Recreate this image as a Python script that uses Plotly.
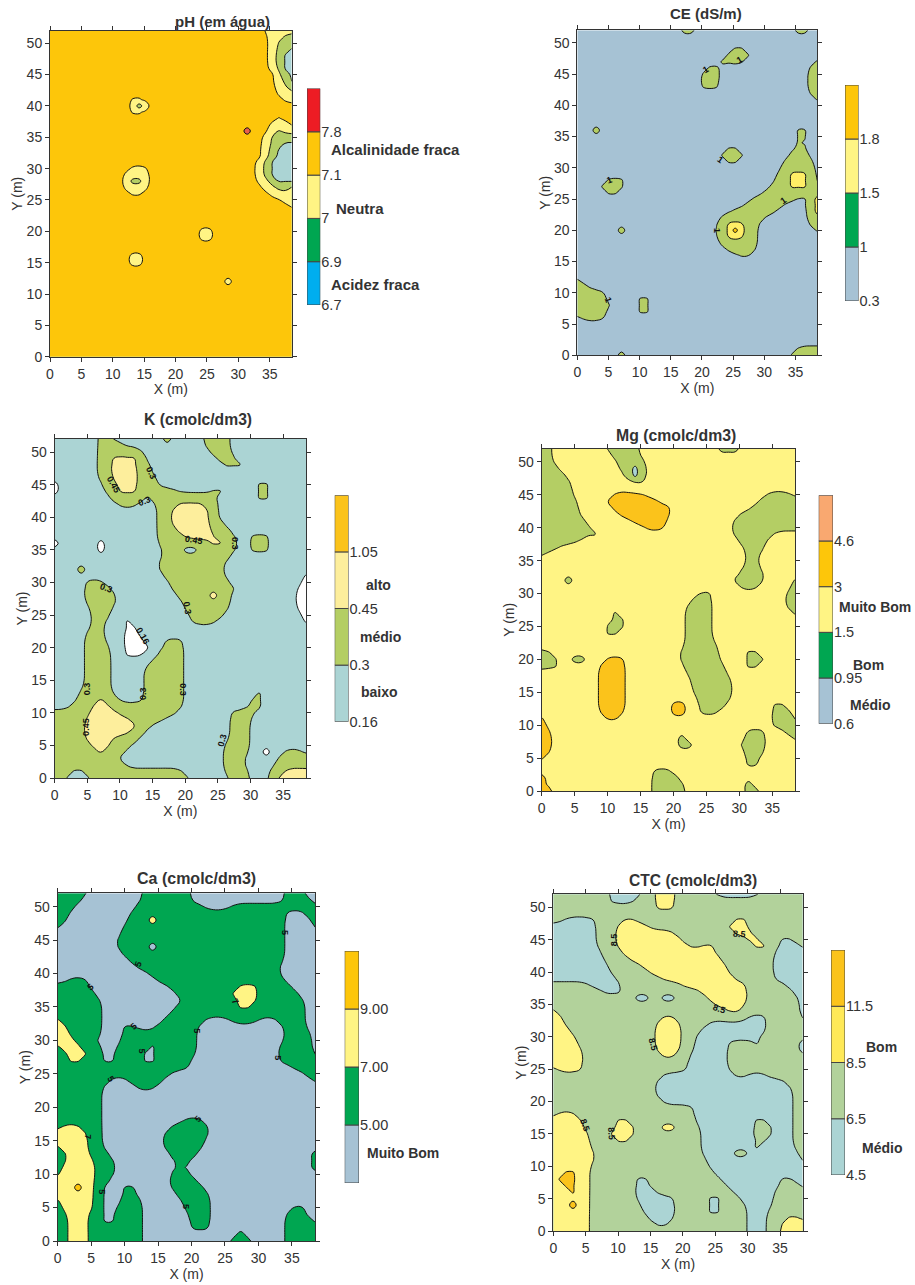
import numpy as np
import plotly.graph_objects as go

# ---- class maps: {y (m): "class end-x class end-x ... class"} ----
PH_ROWS = {
52:"3 34 2",51:"3 35 2 37 1",50:"3 35 2 36 1",49:"3 35 2 36 1 38 0",48:"3 35 2 36 1 37 0",47:"3 35 2 36 1 37 0",
46:"3 35 2 36 1 37 0",45:"3 36 2 37 1 38 0",44:"3 36 2 37 1 38 0",43:"3 36 2 38 1",42:"3 36 2",41:"3 13 2 15 3 37 2",
40:"3 13 2 14 1 15 2 16 3",39:"3 13 2 15 3",38:"3 36 2 37 3",37:"3 35 2 38 3",36:"3 31 4 32 3 35 2 36 1 37 2",
35:"3 34 2 35 1",34:"3 34 2 35 1 37 0",33:"3 34 2 35 1 36 0",32:"3 34 2 35 1 36 0",31:"3 33 2 34 1 35 0",
30:"3 13 2 16 3 33 2 34 1 35 0",29:"3 12 2 16 3 33 2 34 1 35 0",28:"3 12 2 13 1 15 2 16 3 33 2 35 1 36 0",
27:"3 12 2 16 3 34 2 36 1 38 2",26:"3 13 2 15 3 35 2",25:"3 37 2",24:"3 38 2",20:"3 24 2 26 3",19:"3 24 2 26 3",
16:"3 13 2 15 3",15:"3 13 2 15 3",12:"3 28 2 29 3"}
CE_ROWS = {
52:"0 17 1 19 0 35 1 37 0",49:"0 25 1 27 0",48:"0 24 1 28 0",47:"0 23 1 27 0 38 1",46:"0 21 1 23 0 37 1",45:"0 20 1 23 0 37 1",
44:"0 20 1 23 0 37 1",43:"0 20 1 23 0 37 1",42:"0 37 1",41:"0 38 1",36:"0 3 1 4 0 35 1 37 0",35:"0 35 1 37 0",34:"0 35 1 36 0",
33:"0 24 1 26 0 35 1 37 0",32:"0 23 1 27 0 34 1 37 0",31:"0 24 1 26 0 33 1 38 0",30:"0 33 1 38 0",
29:"0 32 1 34 2 37 1 38 0",28:"0 5 1 8 0 32 1 34 2 37 1 38 0",27:"0 4 1 8 0 31 1 34 2 37 1",26:"0 5 1 7 0 30 1",
25:"0 28 1 35 0 37 1 38 2",24:"0 27 1 33 0 37 1 38 2",23:"0 25 1 32 0 37 1 38 2",22:"0 23 1 30 0 37 1",
21:"0 23 1 24 2 27 1 29 0 37 1",20:"0 7 1 8 0 22 1 24 2 25 3 26 2 27 1 29 0 38 1",19:"0 23 1 24 2 27 1 29 0",
18:"0 23 1 29 0",17:"0 24 1 29 0",16:"0 26 1 28 0",12:"1 1 0",11:"1 2 0",10:"1 5 0",9:"1 5 0 10 1 12 0",8:"1 6 0 10 1 12 0",
7:"1 5 0 10 1 12 0",6:"0 1 1 5 0",1:"0 35 1",0:"0 7 1 8 0 34 1"}
K_ROWS = {
52:"1 7 2 9 1 17 2 18 1 23 2 27 1",51:"1 7 2 11 1 23 2 27 1",50:"1 7 2 14 1 24 2 27 1",49:"1 7 2 9 3 13 2 14 1 25 2 28 1",
48:"1 7 2 9 3 13 2 15 1 26 2 29 1",47:"1 7 2 9 3 13 2 15 1",46:"1 7 2 9 3 13 2 16 1",45:"0 1 1 8 2 10 3 13 2 16 1 31 2 33 1",
44:"0 1 1 8 2 10 3 13 2 19 1 24 2 26 1 31 2 33 1",43:"1 9 2 14 1 15 2 25 1 31 2 33 1",42:"1 10 2 13 1 16 2 19 3 23 2 25 1",
41:"1 16 2 18 3 24 2 25 1",40:"1 16 2 18 3 24 2 25 1",39:"1 16 2 18 3 24 2 26 1",38:"1 16 2 19 3 24 2 27 1",
37:"1 16 2 20 3 25 2 28 1 30 2 33 1",36:"0 1 1 7 0 8 1 16 2 24 3 26 2 28 1 30 2 33 1",35:"1 7 0 8 1 17 2 20 1 22 2 28 1 30 2 33 1",
34:"1 17 2 27 1",33:"1 16 2 26 1",32:"1 4 2 5 1 16 2 26 1",31:"1 17 2 26 1 38 0",30:"1 5 2 8 1 18 2 27 1 38 0",
29:"1 5 2 9 1 18 2 28 1 37 0",28:"1 5 2 10 1 19 2 24 3 25 2 27 1 37 0",27:"1 5 2 10 1 20 2 27 1 37 0",26:"1 6 2 9 1 20 2 27 1 37 0",
25:"1 6 2 9 1 21 2 26 1 38 0",24:"1 6 2 8 1 11 0 12 1 21 2 25 1 38 0",23:"1 6 2 8 1 11 0 13 1",22:"1 5 2 8 1 11 0 13 1",
21:"1 5 2 8 1 11 0 14 1 17 2 20 1",20:"1 5 2 9 1 11 0 15 1 17 2 20 1",19:"1 5 2 9 1 11 0 14 1 16 2 20 1",18:"1 5 2 9 1 15 2 20 1",
17:"1 5 2 9 1 14 2 20 1",16:"1 5 2 9 1 14 2 20 1",15:"1 5 2 9 1 14 2 20 1",14:"1 5 2 9 1 14 2 20 1",13:"1 4 2 9 1 14 2 20 1 31 2 32 1",
12:"1 4 2 7 3 8 2 10 1 14 2 20 1 30 2 32 1",11:"1 3 2 6 3 9 2 20 1 30 2 32 1",10:"2 6 3 10 2 19 1 27 2 31 1",9:"2 5 3 12 2 17 1 27 2 30 1",
8:"2 5 3 13 2 15 1 27 2 30 1",7:"2 5 3 12 2 14 1 27 2 30 1",6:"2 5 3 9 2 13 1 27 2 30 1",5:"2 6 3 9 2 12 1 26 2 30 1",
4:"2 7 3 8 2 11 1 26 2 30 1 32 0 33 1 35 2 38 1",3:"2 10 1 26 2 29 1 34 2",2:"2 11 1 26 2 29 1 34 2",1:"2 3 1 5 2 20 1 26 2 30 1 33 2 35 3",
0:"2 2 1 6 2 21 1 27 2 30 1 33 2 34 3"}
MG_ROWS = {
52:"1 2 2 10 1 15 2 27 1 30 2",51:"1 2 2 11 1 15 2",50:"1 2 2 12 1 16 2",49:"1 3 2 12 1 14 0 15 1 16 2",48:"1 4 2 13 1 14 0 15 1 16 2",
47:"1 5 2 14 1 16 2",46:"1 5 2",45:"1 5 2 11 3 16 2 34 1 38 2",44:"1 6 2 10 3 18 2 33 1",43:"1 6 2 11 3 20 2 32 1",
42:"1 6 2 12 3 20 2 30 1",41:"1 7 2 14 3 19 2 29 1",40:"1 8 2 16 3 19 2 29 1",39:"1 9 2 29 1 35 2",38:"1 6 2 30 1 34 2",
37:"1 3 2 31 1 34 2",36:"1 1 2 31 1 33 2",35:"2 31 1 33 2",34:"2 31 1 33 2",33:"2 30 1 34 2",32:"2 4 1 5 2 29 1 34 2 38 1",
31:"2 30 1 33 2 38 1",30:"2 24 1 26 2 37 1",29:"2 23 1 26 2 37 1",28:"2 22 1 26 2 37 1",27:"2 11 1 12 2 22 1 26 2 38 1",
26:"2 11 1 13 2 22 1 26 2",25:"2 10 1 13 2 22 1 26 2",24:"2 10 1 12 2 22 1 26 2",23:"2 22 1 26 2",22:"2 22 1 27 2",
21:"1 2 2 21 1 27 2 31 1 33 2",20:"1 3 2 5 1 7 2 10 3 13 2 21 1 27 2 31 1 34 2",19:"1 3 2 9 3 13 2 22 1 28 2 31 1 33 2",
18:"2 9 3 13 2 22 1 28 2",17:"2 9 3 13 2 23 1 29 2",16:"2 9 3 13 2 23 1 29 2",15:"2 9 3 13 2 23 1 29 2",14:"2 9 3 13 2 24 1 29 2",
13:"2 9 3 13 2 20 3 22 2 24 1 28 2 35 1 37 2",12:"2 9 3 13 2 20 3 22 2 24 1 27 2 35 1 38 2",11:"3 1 2 10 3 12 2 35 1 38 2",10:"3 1 2 35 1",
9:"3 2 2 31 1 34 2 37 1",8:"3 2 2 21 1 22 2 31 1 34 2 38 1",7:"3 2 2 21 1 23 2 30 1 34 2",6:"3 2 2 31 1 34 2",5:"3 1 2 31 1 33 2",
4:"2 31 1 33 2",3:"2 17 1 20 2",2:"3 1 2 17 1 21 2",1:"3 1 2 17 1 22 2 31 1 32 2",0:"3 2 2 17 1 22 2 31 1 33 2"}
CA_ROWS = {
52:"1 5 0 13 1 20 0 34 1 37 0",51:"1 4 0 13 1 20 0 34 1 38 0",50:"1 3 0 12 1 22 0 26 1",49:"1 2 0 11 1 34 0 37 1",
48:"1 2 0 11 1 14 2 15 1 34 0 38 1",47:"1 1 0 10 1 34 0 38 1",46:"0 10 1 34 0",45:"0 9 1 34 0",44:"0 9 1 14 0 15 1 34 0",43:"0 10 1 34 0",
42:"0 11 1 34 0",41:"0 12 1 33 0",40:"0 14 1 33 0",39:"0 2 1 5 0 15 1 34 0",38:"1 5 0 17 1 27 2 30 1 35 0",37:"1 6 0 18 1 26 2 30 1 36 0",
36:"1 7 0 19 1 27 2 30 1 37 0",35:"1 7 0 18 1 27 2 29 1 37 0",34:"1 7 0 17 1 37 0",33:"2 1 1 7 0 16 1 22 0 26 1 30 0 33 1 37 0",
32:"2 2 1 7 0 10 1 12 0 15 1 21 0 34 1 37 0",31:"2 2 1 7 0 10 1 21 0 34 1 38 0",30:"2 3 1 6 0 10 1 21 0 34 1 38 0",
29:"1 1 2 4 1 7 0 9 1 14 0 15 1 21 0 33 1 38 0",28:"1 2 2 5 1 7 0 9 1 13 0 15 1 21 0 33 1 38 0",27:"1 2 2 4 1 7 0 9 1 13 0 15 1 20 0 33 1",
26:"1 20 0 35 1",25:"1 17 0 37 1",24:"1 8 0 11 1 16 0 38 1",23:"1 7 0 12 1 15 0",22:"1 7 0",21:"1 7 0",20:"1 7 0",19:"1 7 0",
18:"1 7 0 19 1 22 0",17:"1 1 2 4 1 7 0 17 1 23 0",16:"2 5 1 7 0 16 1 23 0",15:"2 5 1 7 0 16 1 22 0",14:"1 1 2 5 1 7 0 16 1 22 0",
13:"1 2 2 5 1 8 0 17 1 21 0 38 1",12:"1 2 2 6 1 9 0 18 1 20 0 38 1",11:"1 1 2 6 1 9 0 18 1 19 0 38 1",10:"1 1 2 6 1 9 0 17 1 20 0",
9:"2 6 1 8 0 17 1 21 0",8:"2 3 3 4 2 6 1 7 0 10 1 12 0 17 1 22 0",7:"2 6 1 7 0 10 1 12 0 18 1 23 0",6:"1 1 2 6 1 7 0 10 1 13 0 19 1 23 0",
5:"1 1 2 6 1 7 0 9 1 13 0 19 1 23 0 35 1 37 0",4:"1 2 2 5 1 7 0 9 1 13 0 20 1 23 0 34 1 37 0",3:"1 2 2 5 1 7 0 9 1 13 0 20 1 23 0 34 1 38 0",
2:"1 2 2 5 1 13 0 20 1 23 0 34 1",1:"1 2 2 5 1 13 0 27 1 28 0 34 1",0:"1 2 2 5 1 13 0 26 1 29 0 34 1"}
CTC_ROWS = {
52:"1 9 0 14 1 16 2 19 1 25 0 32 1",51:"1 9 0 13 1 16 2 19 1",50:"1 16 2 19 1",48:"1 2 0 7 1 11 2 13 1 28 2 30 1",
47:"0 7 1 10 2 15 1 27 2 30 1",46:"0 7 1 10 2 19 1 28 2 31 1",45:"0 7 1 10 2 20 1 30 2 32 1 35 0 37 1",
44:"0 7 1 10 2 21 1 23 2 25 1 31 2 33 1 35 0 38 1",43:"0 8 1 11 2 25 1 34 0",42:"0 8 1 12 2 26 1 34 0",41:"0 9 1 14 2 27 1 34 0",
40:"0 9 1 15 2 27 1 34 0",39:"0 10 1 17 2 28 1 34 0",38:"1 6 0 11 1 20 2 30 1 36 0",37:"1 8 0 11 1 23 2 30 1 37 0",
36:"1 13 0 15 1 17 0 19 1 24 2 30 1 38 0",35:"1 25 2 30 1 38 0",34:"2 1 1 27 2 29 1 38 0",33:"2 2 1 17 2 19 1 30 0 33 1 38 0",
32:"2 2 1 16 2 20 1 24 0 33 1",31:"2 3 1 16 2 20 1 23 0 33 1",30:"2 4 1 16 2 20 1 22 0 32 1",29:"2 4 1 16 2 20 1 22 0 27 1 31 0 32 1 38 0",
28:"2 5 1 16 2 20 1 22 0 27 1 38 0",27:"2 5 1 17 2 19 1 21 0 27 1",26:"2 5 1 21 0 27 1",25:"1 1 2 5 1 21 0 27 1",24:"1 17 0 28 1 30 0 33 1",
23:"1 16 0 36 1",22:"1 16 0 37 1",21:"1 16 0 37 1",20:"1 17 0 37 1",19:"1 22 0 37 1",18:"1 1 2 4 1 22 0 37 1",
17:"2 5 1 10 2 12 1 22 0 31 1 33 0 37 1",16:"2 5 1 10 2 13 1 17 2 19 1 23 0 31 1 34 0 37 1",15:"2 6 1 9 2 13 1 23 0 31 1 34 0 37 1",
14:"2 6 1 10 2 12 1 23 0 31 1 33 0 37 1",13:"2 6 1 23 0 31 1 32 0 37 1",12:"2 7 1 23 0 28 1 30 0 38 1",11:"2 7 1 24 0 38 1",10:"2 6 1 24 0",
9:"2 2 3 4 2 6 1 25 0",8:"2 1 3 4 2 6 1 13 0 15 1 26 0 35 1 37 0",7:"2 2 3 4 2 6 1 13 0 15 1 27 0 35 1 38 0",6:"2 3 3 4 2 6 1 13 0 16 1 28 0 34 1",
5:"2 6 1 13 0 19 1 24 0 26 1 29 0 34 1",4:"2 3 3 4 2 6 1 14 0 19 1 24 0 26 1 30 0 34 1",3:"2 6 1 14 0 19 1 24 0 26 1 30 0 33 1",
2:"2 6 1 15 0 19 1 30 0 33 1 36 2 38 1",1:"2 6 1 16 0 18 1 30 0 33 1 35 2",0:"2 6 1 30 0 33 1 35 2"}

PH_LEVELS = ["6.7", "6.9", "7", "7.1", "7.8"]
CE_LEVELS = ["0.3", "1", "1.5", "1.8"]
K_LEVELS = ["0.16", "0.3", "0.45", "1.05"]
MG_LEVELS = ["0.6", "0.95", "1.5", "3", "4.6"]
CA_LEVELS = ["", "5.00", "7.00", "9.00"]
CTC_LEVELS = ["4.5", "6.5", "8.5", "11.5"]

# contour labels: (x, y, text, angle)
K_LABELS = [(9.0,44.9,"0.45",60),(14.8,46.8,"0.3",65),(13.8,42.5,"0.3",-20),(21.3,36.5,"0.45",10),(27.5,36,"0.3",90),
            (7.9,29.2,"0.3",20),(20.4,26,"0.3",80),(13.5,21.8,"0.16",60),(4.9,13.7,"0.3",-90),(13.5,13,"0.3",-90),
            (19.6,13.5,"0.3",90),(4.7,7.9,"0.45",-90),(25.7,5.8,"0.3",-75)]
CE_LABELS = [(26,47.2,"1",-30),(20.5,45.7,"1",-30),(5.2,28,"1",-20),(23,31.3,"1",35),(33,24.7,"1",-35),(22.3,20,"1",90),(5,8.9,"1",70)]
CA_LABELS = [(4.9,38,"5",-40),(12,41.5,"5",-70),(34,46.2,"5",90),(11.4,32.2,"5",-40),(20.7,31.5,"5",90),(12.6,28.5,"5",90),
             (33,27.4,"5",90),(8,24.3,"5",60),(21,18.2,"5",-50),(4.6,15.6,"7",90),(26.5,35.9,"7",60),(6.6,7.3,"5",90),(19.2,5.2,"5",90)]
CTC_LABELS = [(9.3,45,"8.5",-90),(28.7,45.9,"8.5",5),(25.7,34.3,"8.5",20),(15.5,28.8,"8.5",75),(4.9,16.4,"8.5",70),(9,15,"8.5",85)]
NO_LABELS = []

# ---- styling and layout (pixels on the 915x1285 page) ----
W, H = 915, 1285
FONT = "Liberation Sans"
TEAL, OLIVE, YEL, AMB, RED, DGREEN, GREY, SKY, SALMON = (
    "#ABD4D4", "#B4CE64", "#FFF484", "#FDC60A", "#E8604C", "#00A651", "#A6C2D4", "#00AEEF", "#F9A870")
PANELS = [
 dict(title="pH (em água)", tsize=15, rows=PH_ROWS, base=3, levels=PH_LEVELS, labels=NO_LABELS,
      box=(50,291.7,30.7,356.7), bar=(307,320.3,88.5,305), tpos=(222,21),
      fill=[TEAL,OLIVE,YEL,AMB,RED], barc=[SKY,DGREEN,YEL,AMB,"#ED1C24"], nsize=15,
      notes=[("Alcalinidade fraca",329,149),("Neutra",334,209),("Acidez fraca",329,284)]),
 dict(title="CE (dS/m)", tsize=15, rows=CE_ROWS, base=0, levels=CE_LEVELS, labels=CE_LABELS,
      box=(577.3,817.3,30.3,355.3), bar=(845,858.5,85,301), tpos=(705.7,14),
      fill=[GREY,OLIVE,"#FFEE66",AMB], barc=[GREY,DGREEN,YEL,AMB], nsize=14, notes=[]),
 dict(title="K (cmolc/dm3)", tsize=15.7, rows=K_ROWS, base=1, levels=K_LEVELS, labels=K_LABELS,
      box=(54.7,306,439,778), bar=(334.7,348.5,495.3,721.7), tpos=(197.7,420),
      fill=["#FFFFFF",TEAL,OLIVE,"#FDEE9C","#FBC31B"], barc=[TEAL,OLIVE,"#FDEE9C","#FBC31B"], nsize=14,
      notes=[("alto",364,585),("médio",358,637),("baixo",358.7,691.7)]),
 dict(title="Mg (cmolc/dm3)", tsize=15.8, rows=MG_ROWS, base=2, levels=MG_LEVELS, labels=NO_LABELS,
      box=(541.7,795.3,448.7,791), bar=(818.7,833,495.3,723.7), tpos=(676,435.7),
      fill=[TEAL,OLIVE,YEL,"#FBC31B",SALMON], barc=[GREY,DGREEN,YEL,AMB,SALMON], nsize=14,
      notes=[("Muito Bom",837,606.7),("Bom",850.7,664.7),("Médio",848,705)]),
 dict(title="Ca (cmolc/dm3)", tsize=16, rows=CA_ROWS, base=0, levels=CA_LEVELS, labels=CA_LABELS,
      box=(57.7,315.3,893.3,1241), bar=(344.7,359,951,1183), tpos=(196.7,878.7),
      fill=[GREY,DGREEN,YEL,AMB], barc=[GREY,DGREEN,YEL,AMB], nsize=14, notes=[("Muito Bom",365,1153)]),
 dict(title="CTC (cmolc/dm3)", tsize=15.6, rows=CTC_ROWS, base=1, levels=CTC_LEVELS, labels=CTC_LABELS,
      box=(553.3,802.7,894.3,1231), bar=(831,845,950,1175), tpos=(693,880),
      fill=[TEAL,"#B2D29B",YEL,"#FBC31B"], barc=[TEAL,"#B2D29B","#FFE957","#FBC31B"], nsize=14,
      notes=[("Bom",863.7,1047),("Médio",859.7,1148)]),
]

X = np.linspace(0, 38.5, 39)
Y = np.arange(0, 53)

def expand(rows, base):
    g = np.full((53, 39), base, dtype=float)
    for y, s in rows.items():
        t = s.split(); start = 0
        for k in range(0, len(t), 2):
            end = int(t[k+1]) if k + 1 < len(t) else 39
            g[y, start:end] = int(t[k]); start = end
    return g + 0.5

def patch_sizes(g):
    # number of cells in the connected patch of one class that each cell belongs to
    size = np.zeros(g.shape, dtype=int)
    for r0 in range(g.shape[0]):
        for c0 in range(g.shape[1]):
            if size[r0, c0]:
                continue
            stack, cells = [(r0, c0)], []
            size[r0, c0] = -1
            while stack:
                r, c = stack.pop()
                cells.append((r, c))
                for a, b in ((1, 0), (-1, 0), (0, 1), (0, -1)):
                    u, v = r + a, c + b
                    if 0 <= u < g.shape[0] and 0 <= v < g.shape[1] and not size[u, v] and g[u, v] == g[r, c]:
                        size[u, v] = -1
                        stack.append((u, v))
            for cell in cells:
                size[cell] = len(cells)
    return size

def soften(g):
    # rounds the staircase of the class map; every cell stays inside its own class,
    # and cells of small patches stay further inside it so that the patch survives
    k = np.array([1, 4, 6, 4, 1]) / 16
    p = np.pad(g, 2, mode="edge")
    p = np.apply_along_axis(lambda r: np.convolve(r, k, mode="same"), 0, p)
    p = np.apply_along_axis(lambda r: np.convolve(r, k, mode="same"), 1, p)[2:-2, 2:-2]
    s = patch_sizes(g)
    margin = np.select([s == 1, s <= 4, s <= 16], [0.42, 0.25, 0.05], 0.03)
    lo = np.floor(g)
    return np.clip(p, lo + margin, lo + 1 - margin)

def px(v): return v / W
def py(v): return 1 - v / H

fig = go.Figure()
layout = {}
ann = []
for i, p in enumerate(PANELS):
    ax, ay = 2*i + 1, 2*i + 2      # map axes
    bx, by = 13 + 2*i, 14 + 2*i    # colour-bar axes
    x0, x1, y0, y1 = p["box"]
    n = len(p["fill"])
    cs = []
    for k, c in enumerate(p["fill"]):
        cs += [[k/n, c], [(k+1)/n, c]]
    fig.add_trace(go.Contour(
        x=X, y=Y, z=soften(expand(p["rows"], p["base"])), zmin=0, zmax=n, zauto=False, colorscale=cs, showscale=False,
        autocontour=False, contours=dict(start=1, end=n-1, size=1, coloring="fill", showlines=True),
        line=dict(color="#111111", width=1, smoothing=1.3), hoverinfo="skip",
        xaxis=f"x{ax}", yaxis=f"y{ay}", name=p["title"]))
    tick = dict(color="#333333", size=14, family=FONT)
    layout[f"xaxis{ax}"] = dict(domain=[px(x0), px(x1)], range=[0, 38.5], anchor=f"y{ay}", tick0=0, dtick=5,
        ticks="outside", ticklen=4, tickwidth=0.8, tickcolor="#333", showline=True, linecolor="#333", linewidth=1, mirror="ticks",
        showgrid=False, zeroline=False, tickfont=tick,
        title=dict(text="X (m)", font=dict(color="#333333", size=14, family=FONT), standoff=1))
    layout[f"yaxis{ay}"] = dict(domain=[py(y1), py(y0)], range=[0, 52], anchor=f"x{ax}", tick0=0, dtick=5,
        ticks="outside", ticklen=4, tickwidth=0.8, tickcolor="#333", showline=True, linecolor="#333", linewidth=1, mirror="ticks",
        showgrid=False, zeroline=False, tickfont=tick,
        title=dict(text="Y (m)", font=dict(color="#333333", size=14, family=FONT), standoff=0))
    # colour key as stacked bars on its own axes
    bx0, bx1, by0, by1 = p["bar"]
    for k, c in enumerate(p["barc"]):
        fig.add_trace(go.Bar(x=[0], y=[1], base=[k], width=[1], marker=dict(color=c, line=dict(color="#444444", width=1)),
                             hoverinfo="skip", xaxis=f"x{bx}", yaxis=f"y{by}", showlegend=False))
    layout[f"xaxis{bx}"] = dict(domain=[px(bx0), px(bx1)], range=[-0.5, 0.5], anchor=f"y{by}", visible=False)
    layout[f"yaxis{by}"] = dict(domain=[py(by1), py(by0)], range=[0, len(p["barc"])], anchor=f"x{bx}", side="right",
        tickvals=list(range(len(p["levels"]))), ticktext=p["levels"], ticks="", showgrid=False, zeroline=False, showline=False,
        tickfont=dict(color="#333333", size=14.5, family=FONT))
    # panel title and notes
    ann.append(dict(text=f"<b>{p['title']}</b>", xref="paper", yref="paper", x=px(p["tpos"][0]), y=py(p["tpos"][1]),
                    xanchor="center", yanchor="middle", showarrow=False, font=dict(family=FONT, size=p["tsize"], color="#333333")))
    for text, nx, ny in p["notes"]:
        ann.append(dict(text=f"<b>{text}</b>", xref="paper", yref="paper", x=px(nx), y=py(ny), xanchor="left", yanchor="middle",
                        showarrow=False, font=dict(family=FONT, size=p["nsize"], color="#333333")))
    for lx, ly, text, ang in p["labels"]:
        ann.append(dict(text=f"<b>{text}</b>", xref=f"x{ax}", yref=f"y{ay}", x=lx, y=ly, textangle=ang, showarrow=False,
                        font=dict(family=FONT, size=9, color="#111111")))

fig.update_layout(width=W, height=H, margin=dict(l=0, r=0, t=0, b=0, pad=0, autoexpand=False), autosize=False, showlegend=False,
                  paper_bgcolor="white", plot_bgcolor="white", barmode="overlay", annotations=ann, **layout)
fig.write_html("out.html", config={"displayModeBar": False},
               post_script="document.body.style.margin='0';document.body.style.overflow='hidden';")
